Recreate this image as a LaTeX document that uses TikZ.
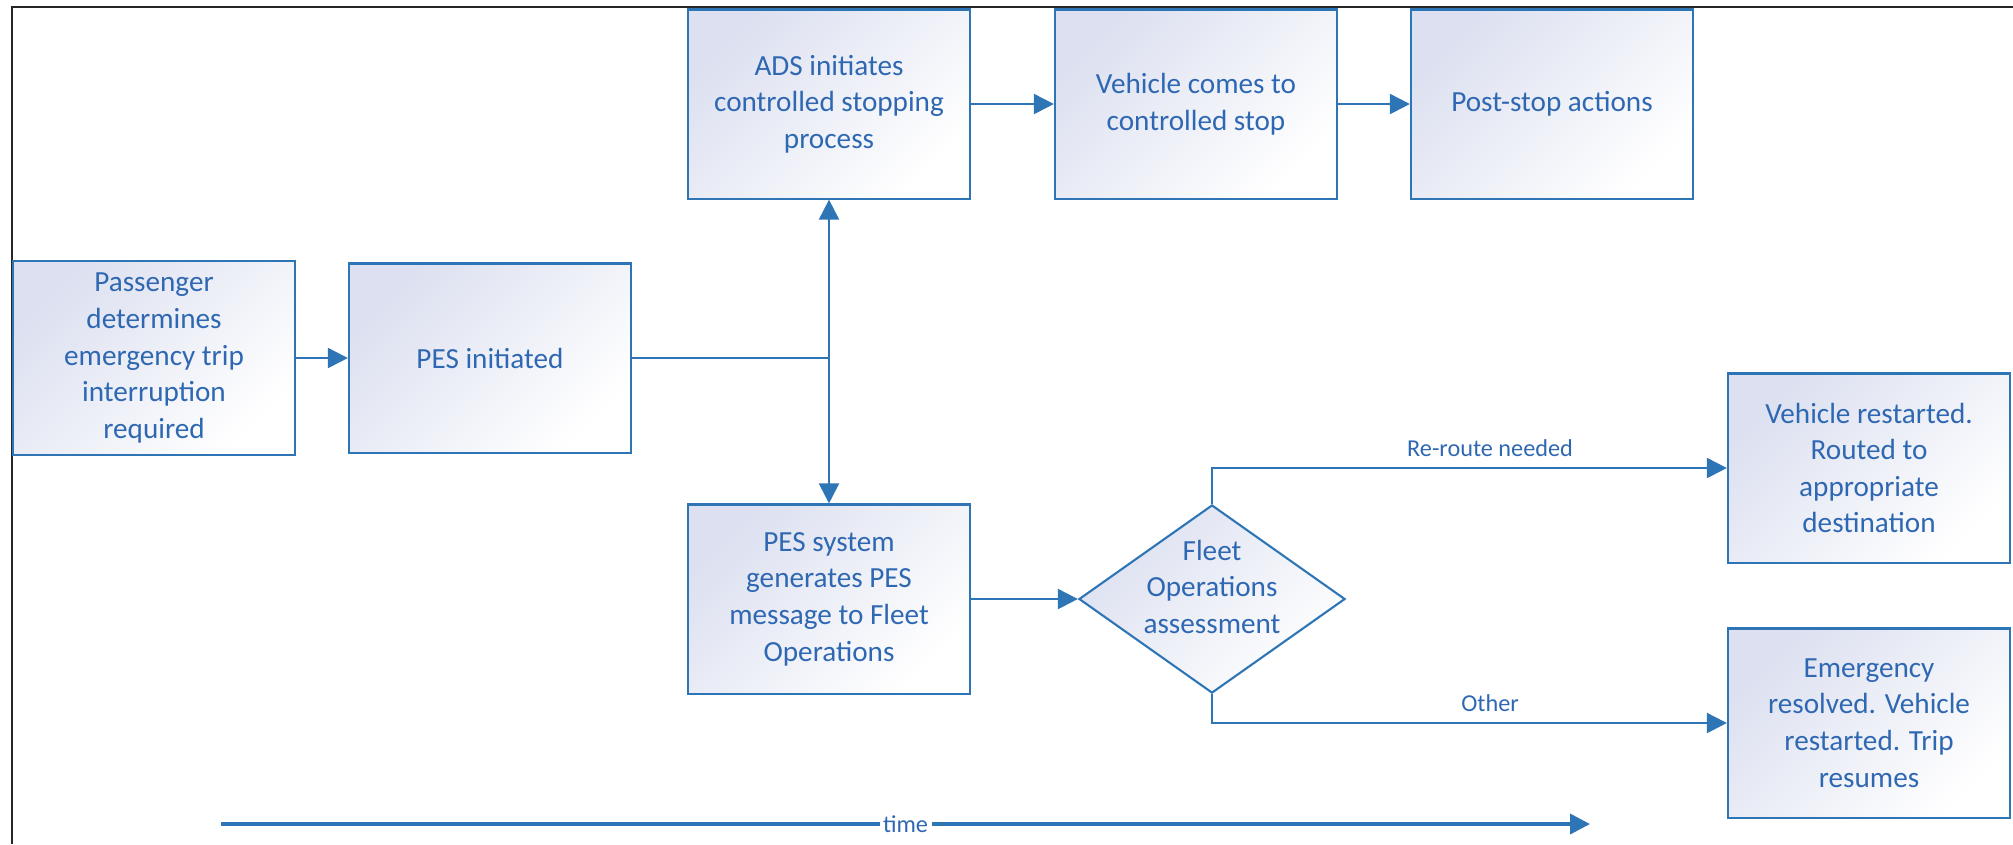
\documentclass[tikz,border=0pt]{standalone}
\usepackage{fontspec}
\setmainfont{Carlito}
\usetikzlibrary{arrows.meta,shapes.geometric}
\definecolor{pesblue}{RGB}{46,117,182}
\definecolor{pestext}{RGB}{47,104,178}
\definecolor{peslav}{RGB}{220,224,240}
\begin{document}
\begin{tikzpicture}[x=0.01cm, y=-0.01cm,
          box/.style={rectangle, draw=pesblue, line width=0.6pt, top color=peslav, bottom color=white,
            shading angle=45, minimum width=2.82cm, minimum height=1.89cm, align=center,
            text=pestext, font=\fontsize{8.3}{10.4}\selectfont},
          decision/.style={box, diamond, aspect=1.41, minimum width=2.66cm, minimum height=1.88cm,
            inner sep=-3pt, text depth=7pt},
          flow/.style={draw=pesblue, line width=0.6pt, -{Triangle[length=2mm, width=2mm]}},
          timeline/.style={flow, line width=1.1pt},
          tag/.style={text=pestext, font=\fontsize{6.9}{8}\selectfont, inner sep=1pt}]
          \useasboundingbox (0,0) rectangle (2013,844);
          % frame edges (top and left only)
          \draw[black!85, line width=0.8pt] (12,844) -- (12,7) -- (2013,7);
          \node[box] (pass) at (154,358) {Passenger\\determines\\emergency trip\\interruption\\required};
          \node[box] (init) at (490,358) {PES initiated};
          \node[box] (ads) at (829,104) {ADS initiates\\controlled stopping\\process};
          \node[box] (stop) at (1196,104) {Vehicle comes to\\controlled stop};
          \node[box] (post) at (1552,104) {Post-stop actions};
          \node[box] (pesmsg) at (829,599) {PES system\\generates PES\\message to Fleet\\Operations};
          \node[decision] (assess) at (1212,599) {Fleet\\Operations\\assessment};
          \node[box] (reroute) at (1869,468) {Vehicle restarted.\\Routed to\\appropriate\\destination};
          \node[box] (resolved) at (1869,723) {Emergency\\resolved. Vehicle\\restarted. Trip\\resumes};
          \coordinate (split) at (init.east -| ads.south);
          \draw[pesblue, line width=0.6pt] (init.east) -- (split);
          \draw[flow] (split) -- (ads.south);
          \draw[flow] (split) -- (pesmsg.north);
          \draw[flow] (pass) -- (init);
          \draw[flow] (ads) -- (stop);
          \draw[flow] (stop) -- (post);
          \draw[flow] (pesmsg) -- (assess);
          \draw[flow] (assess.north) |- node[tag, pos=0.77, above=2pt] {Re-route needed} (reroute.west);
          \draw[flow] (assess.south) |- node[tag, pos=0.77, above=2pt] {Other} (resolved.west);
          \coordinate (t0) at (221,824);
          \coordinate (t1) at (1590,824);
          \draw[timeline] (t0) -- node[tag, fill=white] {time} (t1);
        \end{tikzpicture}
\end{document}
